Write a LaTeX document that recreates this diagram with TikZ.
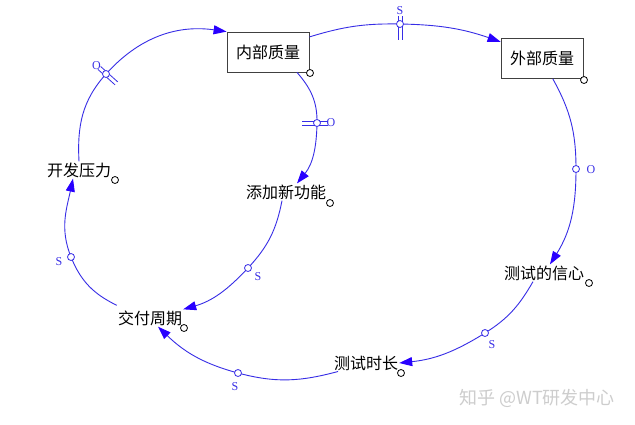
\documentclass[tikz,border=0pt]{standalone}
\usepackage{fontspec}
\setmainfont{Liberation Serif}
\newfontfamily\cjk{Noto Sans CJK SC}
\usetikzlibrary{arrows.meta}
\definecolor{linkblue}{RGB}{55,45,230}
\definecolor{tipblue}{RGB}{40,0,255}
\definecolor{wmgray}{RGB}{205,205,205}
\begin{document}
\begin{tikzpicture}[x=1pt,y=1pt,
  var/.style={font=\cjk\fontsize{16}{19}\selectfont, inner sep=1pt},
  stock/.style={var, draw=black!75, line width=0.8pt, minimum width=82pt, minimum height=40pt, inner sep=0pt},
  link/.style={draw=linkblue, line width=0.9pt},
  arr/.style={-{Triangle[length=13pt,width=9pt,color=tipblue]}},
  bars/.style={draw=linkblue, line width=0.8pt},
  linkdot/.style={circle, draw=linkblue, fill=white, line width=0.8pt, inner sep=0pt, minimum size=7pt},
  enddot/.style={circle, draw=black, fill=white, line width=0.8pt, inner sep=0pt, minimum size=7pt},
  pol/.style={text=linkblue, font=\fontsize{12}{12}\selectfont, inner sep=0pt}
]
\useasboundingbox (0,0) rectangle (635,-424);
\fill[white] (0,0) rectangle (635,-424);

% variables
\node[stock] (iq) at (268,-52) {内部质量};
\node[stock] (eq) at (542,-58.5) {外部质量};
\node[var] (dp) at (79,-170) {开发压力};
\node[var] (af) at (286,-192) {添加新功能};
\node[var] (dc) at (150,-318) {交付周期};
\node[var] (tc) at (544,-273) {测试的信心};
\node[var] (tt) at (366,-363) {测试时长};

% marker points on the links
\coordinate (m1) at (106,-74);
\coordinate (m2) at (400,-24);
\coordinate (m3) at (576,-169);
\coordinate (m4) at (485,-333);
\coordinate (m5) at (238,-373);
\coordinate (m6) at (71,-257);
\coordinate (m7) at (317,-123);
\coordinate (m8) at (248,-268);

% links
\draw[link,arr] (dp.north) to[out=93,in=228] (m1) to[out=48,in=172] (iq.north west);
\draw[link,arr] (iq.20) to[out=17,in=179] (m2) to[out=-1,in=161] (eq.158);
\draw[link,arr] (eq.-62) to[out=-61,in=90] (m3) to[out=-90,in=58] ([xshift=6]tc.north);
\draw[link,arr] ([xshift=-11]tc.south) to[out=-120,in=32] (m4) to[out=212,in=6] (tt.east);
\draw[link,arr] ([xshift=-28]tt.south) to[out=195,in=-15] (m5) to[out=165,in=-44] ([xshift=8]dc.south);
\draw[link,arr] ([yshift=4]dc.north west) to[out=154,in=-68] (m6) to[out=112,in=-102] ([xshift=-6]dp.south);
\draw[link,arr] ([xshift=29]iq.south) to[out=-49,in=89] (m7) to[out=-91,in=51] ([xshift=11]af.north);
\draw[link,arr] ([xshift=-4]af.south) to[out=-101,in=47] (m8) to[out=227,in=16] (dc.north east);

% delay bars with polarity
\begin{scope}[shift={(m1)},rotate=48]
  \draw[bars] (-2,9) -- (-2,-14) (2,9) -- (2,-14);
  \node[pol] (p1) at (0,13) {O};
\end{scope}
\begin{scope}[shift={(m2)}]
  \draw[bars] (-2,8) -- (-2,-16) (2,8) -- (2,-16);
  \node[pol] (p2) at (0,13) {S};
\end{scope}
\begin{scope}[shift={(m7)},rotate=-90]
  \draw[bars] (-2,11) -- (-2,-15) (2,11) -- (2,-15);
  \node[pol] (p7) at (0,14) {O};
\end{scope}

% marker dots
\foreach \m in {1,...,8} \node[linkdot] (d\m) at (m\m) {};

% polarity labels
\node[pol] (p3) at (591,-170) {O};
\node[pol] (p4) at (492,-345) {S};
\node[pol] (p5) at (235,-387) {S};
\node[pol] (p6) at (59,-262) {S};
\node[pol] (p8) at (258,-277) {S};

% end dots
\node[enddot] (e1) at (310,-73) {};
\node[enddot] (e2) at (584,-80) {};
\node[enddot] (e3) at (115,-180) {};
\node[enddot] (e4) at (330,-203) {};
\node[enddot] (e5) at (184,-328) {};
\node[enddot] (e6) at (589,-283) {};
\node[enddot] (e7) at (401,-373) {};

% watermark
\node[text=wmgray, font=\cjk\fontsize{18}{21}\selectfont, inner sep=0pt] (wm) at (537,-398) {知乎\hspace{4pt}@WT研发中心};
\end{tikzpicture}
\end{document}
